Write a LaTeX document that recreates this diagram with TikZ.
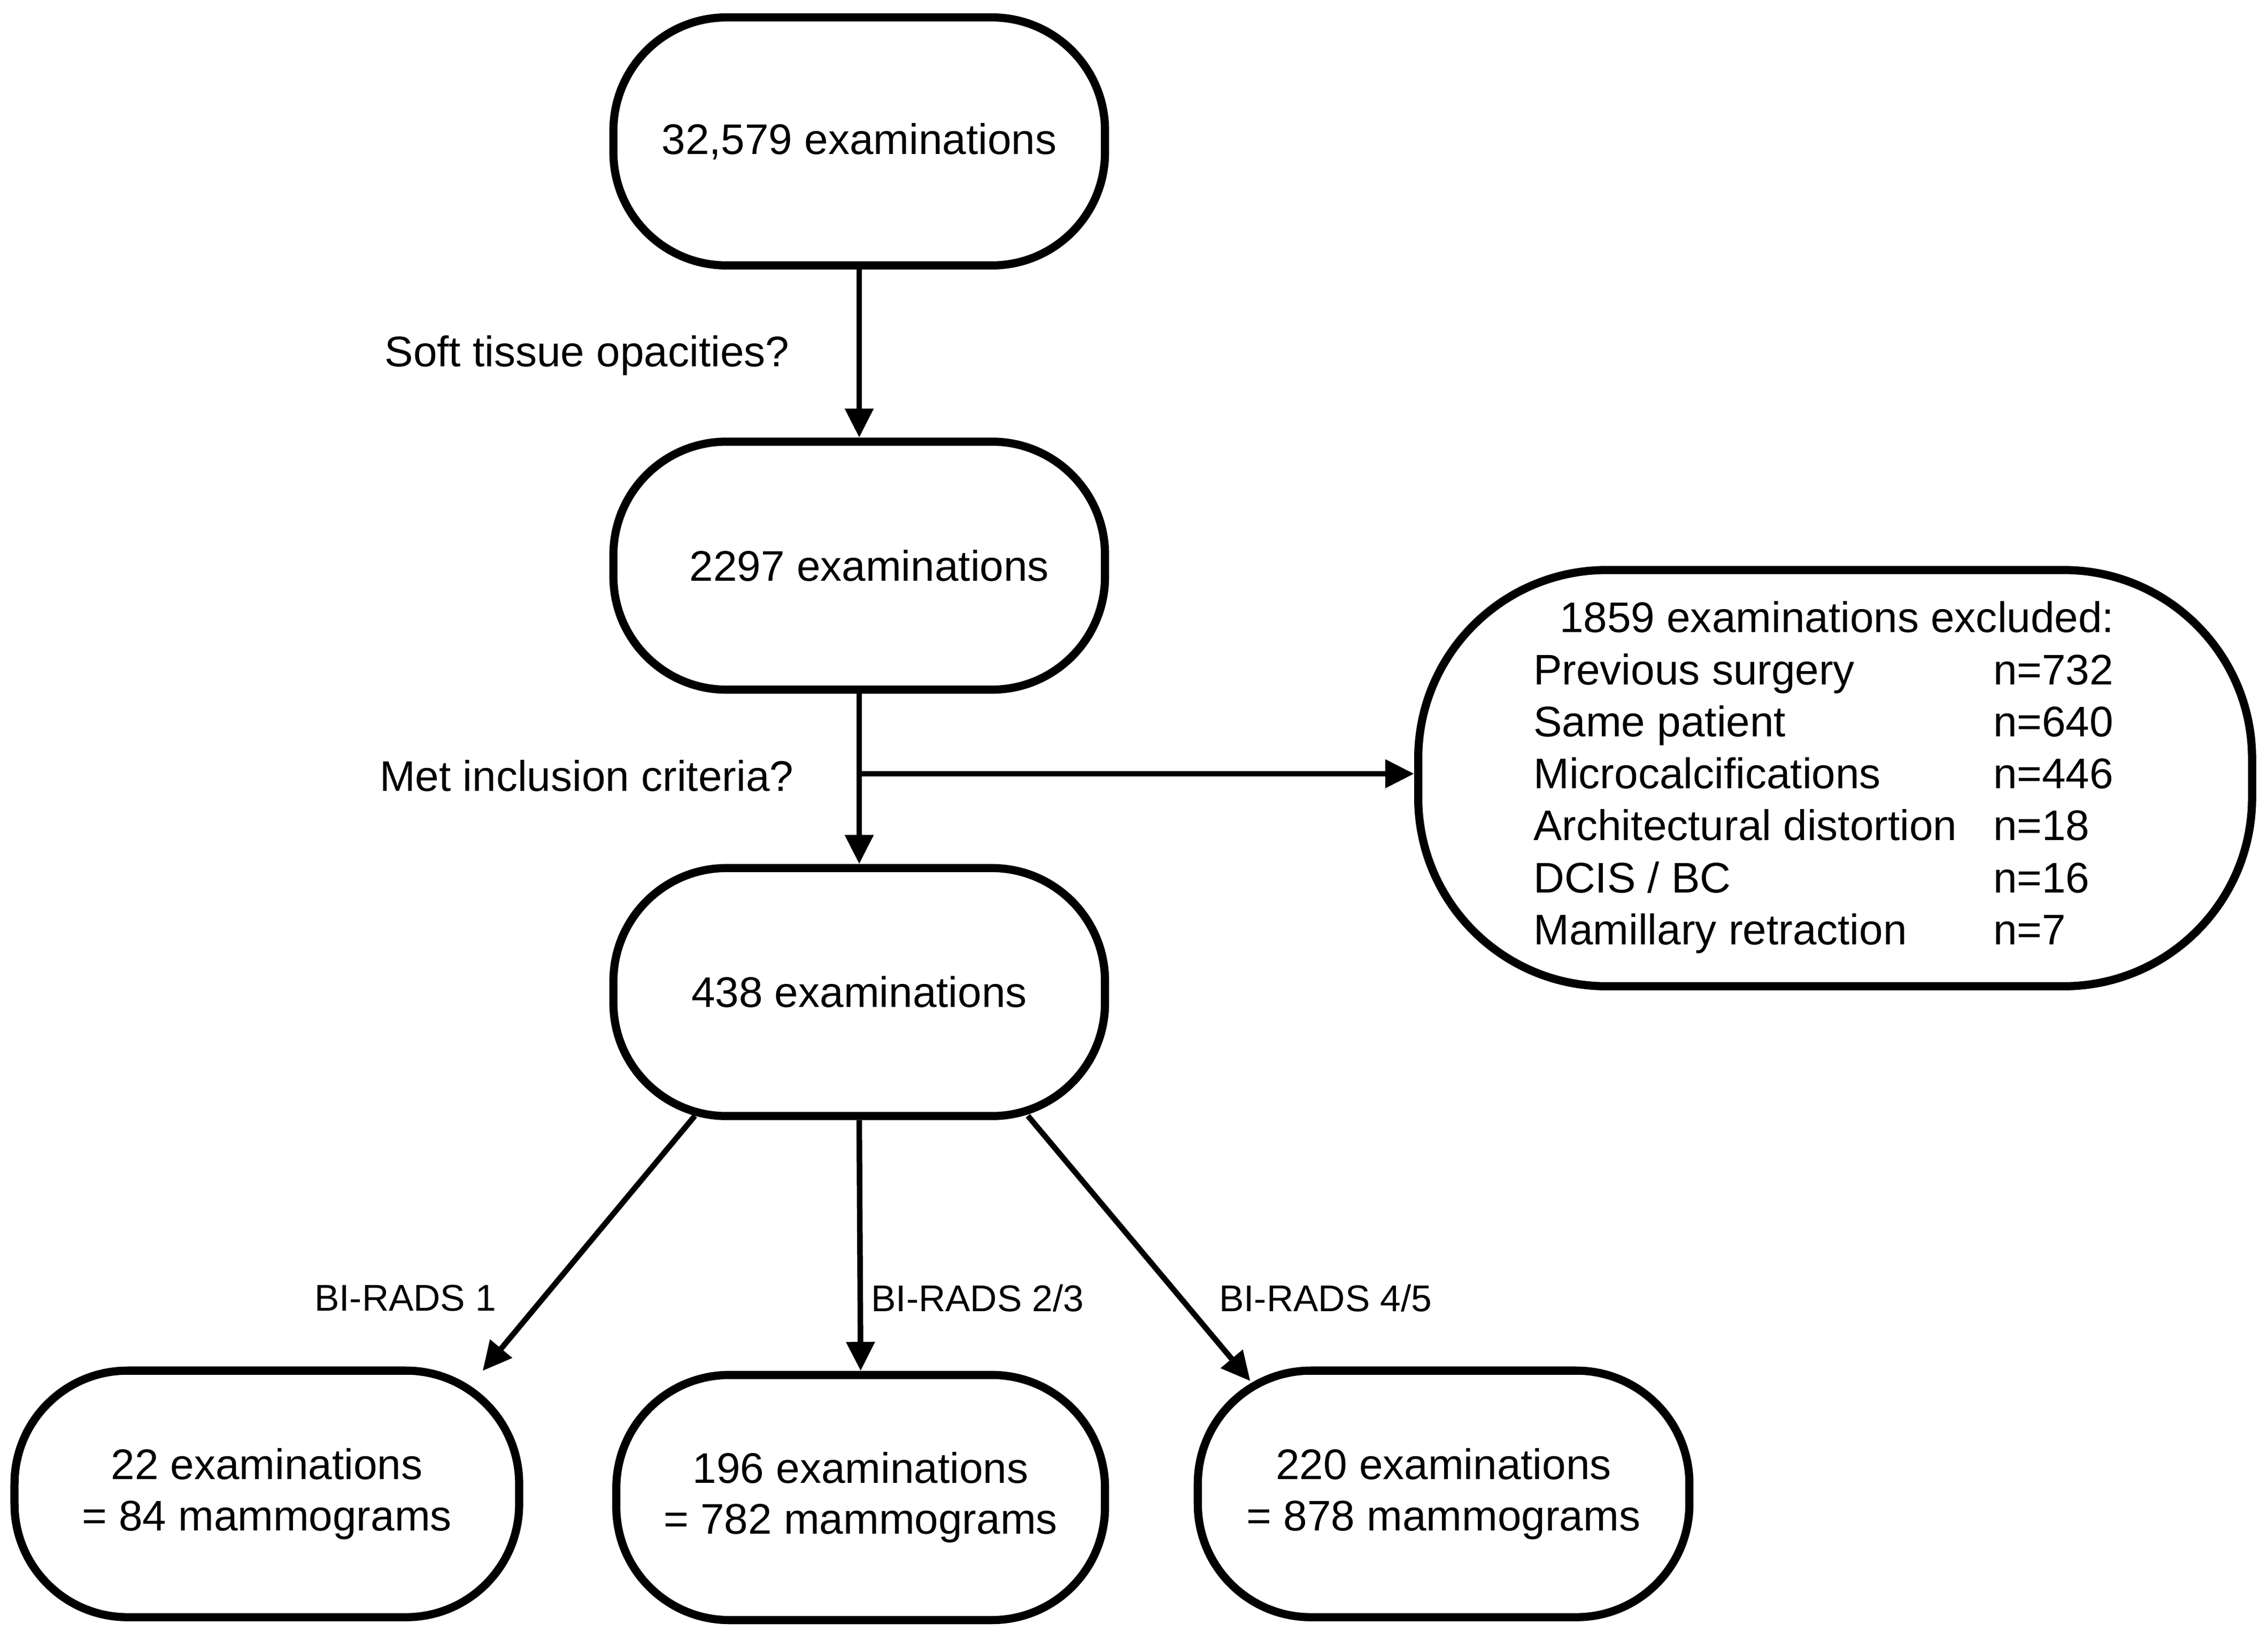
\documentclass[tikz,border=0pt]{standalone}
\usepackage{fontspec}
\setmainfont{Liberation Sans}
\usetikzlibrary{arrows.meta,calc}
\begin{document}
\begin{tikzpicture}[
  box/.style={draw,line width=1.6pt,rounded corners=0.78cm,
    minimum width=3.39cm,minimum height=1.71cm,align=center,
    font=\fontsize{8.4}{10}\selectfont},
  flow/.style={line width=1.1pt,-{Triangle[length=0.2cm,width=0.19cm]}},
  lbl/.style={font=\fontsize{8.4}{10}\selectfont,inner sep=0pt},
  small/.style={font=\fontsize{7.3}{9}\selectfont,inner sep=0pt}]
\useasboundingbox (0,0) rectangle (15.64,-11.297);
\node[box] (all) at (5.925,-0.975) {32,579 examinations};
\node[box] (soft) at (5.925,-3.90) {\hspace{0.14cm}2297 examinations};
\node[box] (incl) at (5.925,-6.84) {438 examinations};
\node[box,minimum width=5.75cm,minimum height=2.87cm,
  rounded corners=1.3cm] (excl) at (12.655,-5.365)
  {\fontsize{8.4}{10.2}\selectfont
   \begin{tabular}{@{}p{3.17cm}@{}l@{\hspace{0.16cm}}}
   \multicolumn{2}{@{}l@{}}{\hspace{0.18cm}1859 examinations excluded:}\\
   Previous surgery & n=732\\
   Same patient & n=640\\
   Microcalcifications & n=446\\
   Architectural distortion & n=18\\
   DCIS / BC & n=16\\
   Mamillary retraction & n=7
   \end{tabular}};
\node[box,minimum width=3.48cm,minimum height=1.70cm] (bi1)
  at (1.84,-10.30) {22 examinations\\= 84 mammograms};
\node[box,minimum width=3.37cm,minimum height=1.69cm] (bi23)
  at (5.935,-10.325) {196 examinations\\= 782 mammograms};
\node[box,minimum width=3.39cm,minimum height=1.70cm] (bi45)
  at (9.955,-10.30) {220 examinations\\= 878 mammograms};
\draw[flow] (all.south) -- (soft.north);
\node[lbl,anchor=east] (q1) at (5.45,-2.45) {Soft tissue opacities?};
\draw[flow] (soft.south) -- (incl.north);
\coordinate (split) at ($(soft.south)!0.47!(incl.north)$);
\draw[flow] (split) -- (split -| excl.west);
\node[lbl,anchor=east] (q2) at (5.48,-5.35) {Met inclusion criteria?};
\draw[flow] ($(incl.south west)+(0.59,0.03)$) --
  ($(bi1.north east)+(-0.28,-0.03)$);
\draw[flow] (incl.south) -- (bi23.north);
\draw[flow] ($(incl.south east)+(-0.56,0.03)$) --
  ($(bi45.north west)+(0.39,-0.10)$);
\node[small,anchor=east] (r1) at (3.43,-8.95) {BI-RADS 1};
\node[small,anchor=west] (r23) at (6.00,-8.95) {BI-RADS 2/3};
\node[small,anchor=west] (r45) at (8.40,-8.95) {BI-RADS 4/5};
\end{tikzpicture}
\end{document}
